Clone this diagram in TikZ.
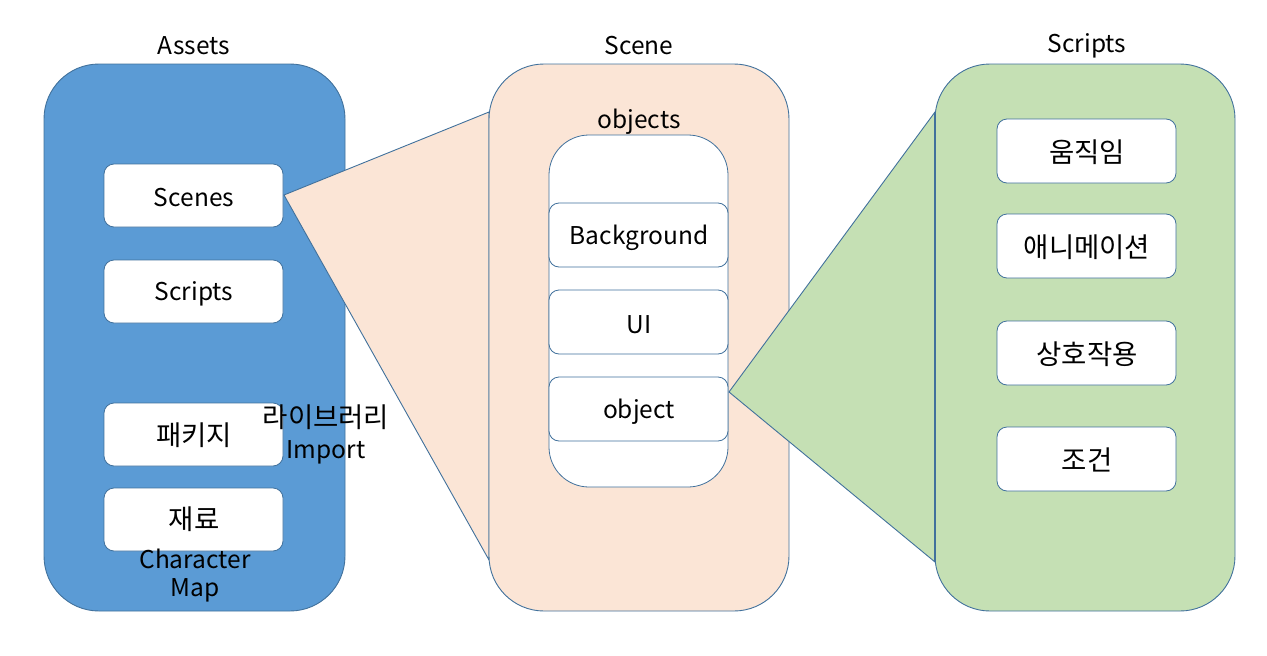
\documentclass[tikz,border=0pt]{standalone}
\usepackage{fontspec}
\setmainfont{Noto Sans CJK KR}
\definecolor{edge}{HTML}{41719C}
\definecolor{blueF}{HTML}{5B9BD5}
\definecolor{pinkF}{HTML}{FBE5D6}
\definecolor{greenF}{HTML}{C5E0B4}
\tikzset{
  panel/.style={draw=edge, line width=0.9pt, rounded corners=55pt},
  item/.style={draw=edge, line width=0.8pt, fill=white, rounded corners=10pt},
  lbl/.style={font=\fontsize{24.5}{28}\selectfont, text=black, inner sep=0pt, yshift=-2pt},
  klbl/.style={font=\fontsize{27.5}{31}\selectfont, text=black, inner sep=0pt, yshift=-1pt},
  funnel/.style={draw=edge, line width=0.9pt}
}
\begin{document}
\begin{tikzpicture}[x=1pt,y=-1pt]
\useasboundingbox (0,0) rectangle (1267,656);
% Assets panel
\draw[panel, fill=blueF] (44,64) rectangle (345,611);
\node[lbl] (tA) at (194,44) {Assets};
\draw[item] (104,164) rectangle (283,227);
\node[lbl] (scenes) at (194,196) {Scenes};
\coordinate (scenesR) at (284,195);
\draw[item] (104,260) rectangle (283,323);
\node[lbl] (scr) at (194,292) {Scripts};
\draw[item] (104,403) rectangle (283,466);
\node[klbl] (pkg) at (194,434) {패키지};
\draw[item] (104,488) rectangle (283,551);
\node[klbl] (mat) at (194,518) {재료};
% pink funnel
\coordinate (pT) at (489,112);
\coordinate (pB) at (489,560);
\filldraw[funnel, fill=pinkF] (scenesR) -- (pT) -- (pB) -- cycle;
% Scene panel
\draw[panel, fill=pinkF] (489,64) rectangle (789,611);
\node[lbl] (tS) at (639,44) {Scene};
\node[lbl] (objs) at (639,120) {objects};
\draw[draw=edge, line width=0.8pt, fill=white, rounded corners=40pt] (549,135) rectangle (728,487);
\draw[item] (549,203) rectangle (728,267);
\node[lbl] (bg) at (639,236) {Background};
\draw[item] (549,290) rectangle (728,354);
\node[lbl] (ui) at (639,323) {UI};
\draw[item] (549,377) rectangle (728,441);
\node[lbl] (obj) at (639,410) {object};
\coordinate (objR) at (729,392);
% green funnel
\coordinate (gT) at (935,112);
\coordinate (gB) at (935,562);
\filldraw[funnel, fill=greenF] (objR) -- (gT) -- (gB) -- cycle;
% Scripts panel
\draw[panel, fill=greenF] (935,64) rectangle (1235,611);
\draw[edge, line width=1.3pt] (gT) -- (gB);
\node[lbl] (tC) at (1087,44) {Scripts};
\draw[item] (997,119) rectangle (1176,183);
\node[klbl] (m1) at (1087,151) {움직임};
\draw[item] (997,214) rectangle (1176,278);
\node[klbl] (m2) at (1087,246) {애니메이션};
\draw[item] (997,321) rectangle (1176,385);
\node[klbl] (m3) at (1087,353) {상호작용};
\draw[item] (997,427) rectangle (1176,491);
\node[klbl] (m4) at (1087,459) {조건};
% free labels
\node[klbl] (lib) at (326,416) {라이브러리};
\node[lbl] (imp) at (326,450) {Import};
\node[lbl] (chr) at (195,557) {Character};
\node[lbl] (map) at (195,588) {Map};
\end{tikzpicture}
\end{document}
